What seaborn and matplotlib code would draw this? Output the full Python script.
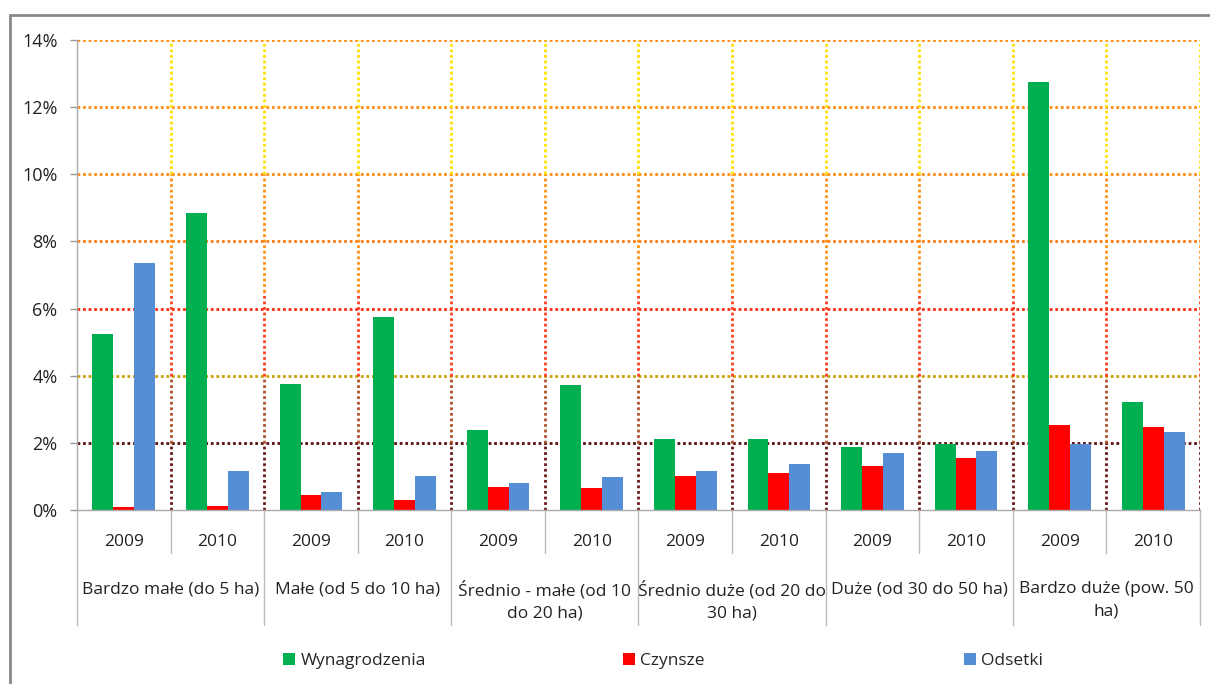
import matplotlib
matplotlib.use("Agg")
import matplotlib.pyplot as plt
import matplotlib.transforms as mtransforms
from matplotlib.lines import Line2D
import seaborn as sns
import pandas as pd

groups = ["Bardzo małe (do 5 ha)", "Małe (od 5 do 10 ha)", "Średnio - małe (od 10\ndo 20 ha)",
          "Średnio duże (od 20 do\n30 ha)", "Duże (od 30 do 50 ha)", "Bardzo duże (pow. 50\nha)"]
years = ["2009", "2010"]
series = ["Wynagrodzenia", "Czynsze", "Odsetki"]
wynagrodzenia = [5.25, 8.85, 3.76, 5.75, 2.38, 3.73, 2.12, 2.12, 1.88, 1.97, 12.76, 3.22]
czynsze = [0.09, 0.12, 0.45, 0.30, 0.69, 0.66, 1.01, 1.10, 1.31, 1.55, 2.53, 2.47]
odsetki = [7.36, 1.16, 0.54, 1.01, 0.80, 0.98, 1.16, 1.37, 1.70, 1.76, 1.97, 2.32]
yticks = [0, 2, 4, 6, 8, 10, 12, 14]
colors = ["#00B050", "#FF0000", "#558ED5"]

sns.set_theme(style="white")
plt.rcParams["font.family"] = ["Open Sans", "DejaVu Sans"]

cats = [f"{g}|{y}" for g in groups for y in years]
rows = []
for s, vals in zip(series, [wynagrodzenia, czynsze, odsetki]):
    for c, v in zip(cats, vals):
        rows.append({"cat": c, "series": s, "value": v})
df = pd.DataFrame(rows)

fig = plt.figure(figsize=(12.1, 6.84), dpi=100)
ax = fig.add_axes([77 / 1210, 1 - 510 / 684, (1200 - 77) / 1210, 470 / 684])

sns.barplot(data=df, x="cat", y="value", hue="series", order=cats, hue_order=series,
            palette=colors, width=0.67, saturation=1, ax=ax, legend=True, edgecolor="none")

n = len(cats)
ax.set_xlim(-0.5, n - 0.5)
ax.set_ylim(0, 14)
ax.set_yticks(yticks)
ax.set_yticklabels([f"{t}%" for t in yticks], fontsize=13, color="#222222")
ax.set_xticks(range(n))
ax.set_xticklabels([c.split("|")[1] for c in cats], fontsize=12.5, color="#222222")
ax.tick_params(axis="x", length=0, pad=17)
ax.tick_params(axis="y", length=5, width=1, color="#999999", direction="out", left=True, pad=9)
ax.set_xlabel("")
ax.set_ylabel("")
for sp in ["top", "right"]:
    ax.spines[sp].set_visible(False)
ax.spines["left"].set_color("#AAAAAA")
ax.spines["bottom"].set_color("#AAAAAA")
ax.spines["left"].set_linewidth(1)
ax.spines["bottom"].set_linewidth(1)

# horizontal gridlines
hcolors = {2: "#5A1010", 4: "#C8A000", 6: "#FF2A10", 8: "#FF7A10", 10: "#FF8C10", 12: "#FF8C10", 14: "#FF8C10"}
for t, col in hcolors.items():
    ax.axhline(t, color=col, lw=2, ls=(0, (1, 1)), zorder=0.5)

# vertical gridlines with gradient
vsegs = [(0, 2, "#6B1A1A"), (2, 4, "#B0502A"), (4, 6.5, "#FF4020"), (6.5, 10, "#FF9010"), (10, 14, "#FFE000")]
for i in range(n):
    xg = i + 0.5
    for y0, y1, col in vsegs:
        ax.plot([xg, xg], [y0, y1], color=col, lw=2, ls=(0, (1, 1)), zorder=0.5)

# x-axis separators and group labels
trans = mtransforms.blended_transform_factory(ax.transData, ax.transAxes)
for i in range(n + 1):
    xb = i - 0.5
    if i % 2 == 0:
        ax.plot([xb, xb], [0, -115 / 470], transform=trans, color="#BBBBBB", lw=1, clip_on=False)
    else:
        ax.plot([xb, xb], [0, -43 / 470], transform=trans, color="#BBBBBB", lw=1, clip_on=False)
for gi, g in enumerate(groups):
    ax.text(2 * gi + 0.5, -71 / 470, g, transform=trans, ha="center", va="top",
            fontsize=12.5, color="#222222", linespacing=1.5)

# legend
handles, labels = ax.get_legend_handles_labels()
ax.get_legend().remove()
xpos = [283 / 1210, 623 / 1210, 964 / 1210]
for h, l, xp in zip(handles, labels, xpos):
    fig.legend([h], [l], loc="center left", bbox_to_anchor=(xp, 1 - 661 / 684), frameon=False,
               fontsize=12.5, handlelength=0.7, handleheight=0.7, handletextpad=0.3,
               borderpad=0, borderaxespad=0)

# outer frame
fig.add_artist(Line2D([10 / 1210, 10 / 1210], [0, 1 - 15 / 684], transform=fig.transFigure, color="#888888", lw=2))
fig.add_artist(Line2D([10 / 1210, 1], [1 - 15 / 684, 1 - 15 / 684], transform=fig.transFigure, color="#888888", lw=2))

fig.savefig("out.png", dpi=100, facecolor="white")
